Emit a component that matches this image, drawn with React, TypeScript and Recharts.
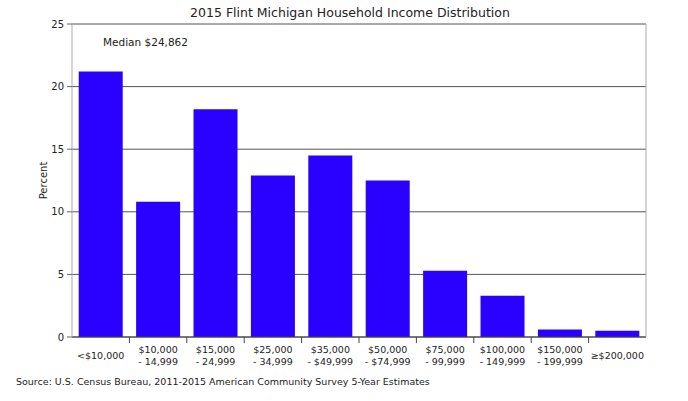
import { Bar, BarChart, CartesianGrid, XAxis, YAxis } from 'recharts';

const categories = [
  '<$10,000',
  '$10,000|- 14,999',
  '$15,000|- 24,999',
  '$25,000|- 34,999',
  '$35,000|- $49,999',
  '$50,000|- $74,999',
  '$75,000|- 99,999',
  '$100,000|- 149,999',
  '$150,000|- 199,999',
  '≥$200,000',
];
const percents = [21.2, 10.8, 18.2, 12.9, 14.5, 12.5, 5.3, 3.3, 0.6, 0.5];
const yTicks = [0, 5, 10, 15, 20, 25];

const title = '2015 Flint Michigan Household Income Distribution';
const note = 'Median $24,862';
const source = 'Source: U.S. Census Bureau, 2011-2015 American Community Survey 5-Year Estimates';

const data = categories.map((c, i) => ({ cat: c, pct: percents[i] }));

const W = 688;
const H = 401;
const margin = { top: 24, right: 41, bottom: 24, left: 32 };
const Y_W = 40;
const FONT = '"DejaVu Sans", Verdana, sans-serif';
const TEXT = '#222';

const plotW = W - margin.left - margin.right - Y_W - 1;
const band = plotW / categories.length;

function CatTick(props: any) {
  const { x, y, payload, index } = props;
  const lines = String(payload.value).split('|');
  return (
    <g>
      {index > 0 && (
        <line x1={x - band / 2} x2={x - band / 2} y1={y} y2={y + 6} stroke="#444" />
      )}
      {lines.length === 1 ? (
        <text x={x} y={y + 21.5} textAnchor="middle" fontSize={9.5} fill={TEXT} fontFamily={FONT}>
          {lines[0]}
        </text>
      ) : (
        lines.map((l, i) => (
          <text
            key={i}
            x={x}
            y={y + 15.5 + i * 12}
            textAnchor="middle"
            fontSize={9.5}
            fill={TEXT}
            fontFamily={FONT}
          >
            {l}
          </text>
        ))
      )}
    </g>
  );
}

export default function App() {
  return (
    <div style={{ position: 'absolute', left: 0, top: 0, width: W, height: H, background: '#fff' }}>
      <BarChart width={W} height={H} data={data} margin={margin} barCategoryGap="11.7%">
        <CartesianGrid vertical={false} stroke="#555" />
        <XAxis
          dataKey="cat"
          interval={0}
          tickSize={0}
          tickMargin={0}
          tick={<CatTick />}
          axisLine={{ stroke: '#444' }}
          height={40}
        />
        <XAxis xAxisId="top" orientation="top" dataKey="cat" tick={false} tickLine={false} axisLine={{ stroke: '#aaa' }} height={0} />
        <YAxis
          domain={[0, 25]}
          ticks={yTicks}
          width={Y_W}
          tickSize={5}
          tickMargin={3}
          tickLine={{ stroke: '#666' }}
          axisLine={{ stroke: '#aaa' }}
          tick={{ fontSize: 10, fill: TEXT, fontFamily: FONT }}
          label={{
            value: 'Percent',
            angle: -90,
            position: 'insideLeft',
            offset: 11,
            style: { fontSize: 10, fill: TEXT, fontFamily: FONT, textAnchor: 'middle' },
          }}
        />
        <YAxis yAxisId="right" orientation="right" domain={[0, 25]} tick={false} tickLine={false} axisLine={{ stroke: '#aaa' }} width={1} />
        <Bar dataKey="pct" fill="#2a00ff" isAnimationActive={false} />
      </BarChart>
      <svg width={W} height={H} style={{ position: 'absolute', left: 0, top: 0, pointerEvents: 'none' }}>
        <text x={350} y={17} textAnchor="middle" fontSize={12.5} fill={TEXT} fontFamily={FONT}>
          {title}
        </text>
        <text x={103} y={46} fontSize={10.5} fill={TEXT} fontFamily={FONT}>
          {note}
        </text>
        <text x={16} y={385} fontSize={9.5} fill={TEXT} fontFamily={FONT}>
          {source}
        </text>
      </svg>
    </div>
  );
}
